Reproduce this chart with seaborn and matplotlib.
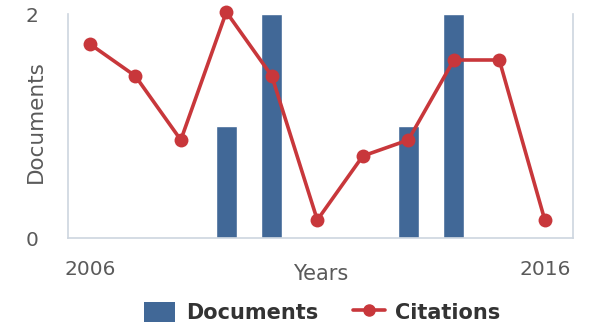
import matplotlib
matplotlib.use("Agg")
import matplotlib.pyplot as plt
import seaborn as sns
import pandas as pd
from matplotlib.patches import Patch
from matplotlib.lines import Line2D

# data
years = [2006, 2007, 2008, 2009, 2010, 2011, 2012, 2013, 2014, 2015, 2016]
documents = [0, 0, 0, 1, 2, 0, 0, 1, 2, 0, 0]
citations = [12, 10, 6, 14, 10, 1, 5, 6, 11, 11, 1]

bar_color = "#416897"
line_color = "#c8373b"
spine_color = "#cdd5df"
text_gray = "#5a5a5a"

df = pd.DataFrame({"Year": years, "Documents": documents, "Citations": citations})

sns.set_style("white")
plt.rcParams["font.family"] = ["DejaVu Sans"]

fig = plt.figure(figsize=(5.91, 3.28), dpi=100)
ax = fig.add_axes([68 / 591, 1 - 238 / 328, 505 / 591, 224 / 328])

# bars for documents
sns.barplot(data=df, x="Year", y="Documents", native_scale=True, width=0.46,
            color=bar_color, saturation=1, ax=ax, zorder=2)
ax.set_xlim(2005.52, 2016.62)
ax.set_ylim(0, 2)
ax.set_xticks([2006, 2016])
ax.set_yticks([0, 2])
ax.tick_params(axis="both", length=0, labelsize=14.5, labelcolor=text_gray)
ax.tick_params(axis="x", pad=16)
ax.tick_params(axis="y", pad=21)
ax.set_xlabel("Years", fontsize=15, color=text_gray)
ax.set_ylabel("Documents", fontsize=15.5, color=text_gray)
ax.xaxis.set_label_coords(0.5, -0.115)
ax.yaxis.set_label_coords(-0.044, 0.52)
for side in ["left", "bottom", "right"]:
    ax.spines[side].set_color(spine_color)
    ax.spines[side].set_linewidth(1.2)
ax.spines["top"].set_visible(False)

# citations on a hidden second scale
ax2 = ax.twinx()
sns.lineplot(data=df, x="Year", y="Citations", color=line_color, linewidth=2.6,
             marker="o", markersize=10, markeredgewidth=0, ax=ax2, clip_on=False)
ax2.set_ylim(-0.125, 13.875)
ax2.set_xlim(2005.52, 2016.62)
ax2.set_yticks([])
ax2.set_ylabel("")
ax2.set_xlabel("")
for s in ax2.spines.values():
    s.set_visible(False)

handles = [
    Patch(facecolor=bar_color, edgecolor="none"),
    Line2D([0], [0], color=line_color, linewidth=2.6, marker="o", markersize=8),
]
leg = fig.legend(handles, ["Documents", "Citations"], loc="center",
                 bbox_to_anchor=(0.545, 0.048), ncol=2, frameon=False,
                 prop={"weight": "bold", "size": 15}, handlelength=1.5,
                 handleheight=1.1, columnspacing=1.7, handletextpad=0.5)
for t in leg.get_texts():
    t.set_color("#333333")

fig.savefig("out.png", dpi=100)
